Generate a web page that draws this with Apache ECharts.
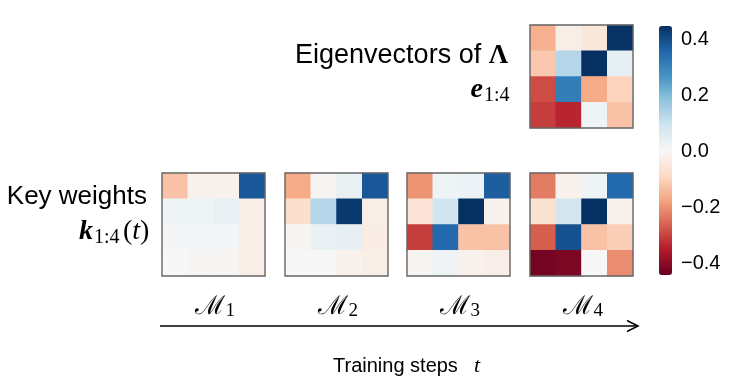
<!DOCTYPE html>
<html><head><meta charset="utf-8">
<script src="https://cdn.jsdelivr.net/npm/echarts@6/dist/echarts.min.js"></script>
<style>html,body{margin:0;padding:0;background:#fff}#c{width:731px;height:390px}</style>
</head><body><div id="c"></div>
<script>
// ---- data ----
const rowLabels = ['1', '2', '3', '4'];
const colLabels = ['1', '2', '3', '4'];
const eigenvectors = [
  [-0.16, -0.03, -0.05, 0.44],
  [-0.12, 0.13, 0.445, 0.04],
  [-0.29, 0.31, -0.17, -0.10],
  [-0.31, -0.34, 0.02, -0.13]
];
const keyM1 = [
  [-0.13, -0.02, -0.02, 0.38],
  [0.02, 0.02, 0.035, -0.03],
  [0.01, 0.01, 0.01, -0.03],
  [0.0, -0.005, -0.01, -0.03]
];
const keyM2 = [
  [-0.17, -0.01, 0.035, 0.38],
  [-0.08, 0.13, 0.43, -0.03],
  [-0.01, 0.03, 0.04, -0.035],
  [0.0, 0.0, -0.02, -0.03]
];
const keyM3 = [
  [-0.20, 0.02, 0.025, 0.37],
  [-0.06, 0.09, 0.445, -0.02],
  [-0.31, 0.35, -0.13, -0.13],
  [-0.01, 0.02, -0.02, -0.03]
];
const keyM4 = [
  [-0.23, -0.02, 0.02, 0.35],
  [-0.065, 0.085, 0.445, -0.02],
  [-0.27, 0.39, -0.13, -0.11],
  [-0.43, -0.42, 0.0, -0.21]
];
const stageLabels = ['1', '2', '3', '4'];
const colorbarMin = -0.445, colorbarMax = 0.445;
const colorbarTickMin = -0.4, colorbarTickMax = 0.4, colorbarTickStep = 0.2;
const rdbu = ['#67001f', '#b2182b', '#d6604d', '#f4a582', '#fddbc7', '#f7f7f7',
  '#d1e5f0', '#92c5de', '#4393c3', '#2166ac', '#053061'];

// ---- layout ----
const matrices = [eigenvectors, keyM1, keyM2, keyM3, keyM4];
const gridBoxes = [
  { left: 530, top: 25 },
  { left: 162, top: 173 },
  { left: 285, top: 173 },
  { left: 407, top: 173 },
  { left: 530, top: 173 }
];
const CELL = 103;

const toCells = m => m.flatMap((row, r) => row.map((v, c) => [c, r, v]));

const grid = gridBoxes.map(b => ({
  left: b.left, top: b.top, width: CELL, height: CELL,
  show: true, z: 10, backgroundColor: 'transparent',
  borderColor: '#666', borderWidth: 1.4
}));
grid.push({ left: 659, top: 39.3, width: 13, height: 224 });

const xAxis = gridBoxes.map((b, i) => ({ type: 'category', data: colLabels, gridIndex: i, show: false }));
const yAxis = gridBoxes.map((b, i) => ({ type: 'category', data: rowLabels, gridIndex: i, inverse: true, show: false }));
xAxis.push({ type: 'value', gridIndex: 5, show: false, min: 0, max: 1 });
yAxis.push({
  type: 'value', gridIndex: 5, position: 'right',
  min: colorbarTickMin, max: colorbarTickMax, interval: colorbarTickStep,
  axisLine: { show: false },
  axisTick: { show: true, length: 4, lineStyle: { color: '#000', width: 1 } },
  splitLine: { show: false },
  axisLabel: {
    margin: 9, color: '#000', fontSize: 20, fontFamily: 'Liberation Sans',
    formatter: v => (v < -1e-9 ? '\u2212' : '') + Math.abs(v).toFixed(1)
  }
});

const series = matrices.map((m, i) => ({
  type: 'heatmap', xAxisIndex: i, yAxisIndex: i, data: toCells(m),
  emphasis: { disabled: true }, itemStyle: { borderWidth: 0 }
}));

const serif = 'Liberation Serif';
const sans = 'Liberation Sans';
const graphic = [
  { type: 'text', x: 508, y: 56, style: {
      text: '{a|Eigenvectors of }{b|\u039B}', align: 'right', verticalAlign: 'middle',
      rich: { a: { fontSize: 27, fontFamily: sans, fill: '#000' },
              b: { fontSize: 27, fontFamily: serif, fontWeight: 'bold', fill: '#000' } } } },
  { type: 'text', x: 483, y: 90, style: { text: 'e', align: 'right', verticalAlign: 'middle',
      fontSize: 28, fontFamily: serif, fontWeight: 'bold', fontStyle: 'italic', fill: '#000' } },
  { type: 'text', x: 484, y: 96, style: { text: '1:4', align: 'left', verticalAlign: 'middle',
      fontSize: 20, fontFamily: serif, fill: '#000' } },

  { type: 'text', x: 147, y: 197, style: { text: 'Key weights', align: 'right', verticalAlign: 'middle',
      fontSize: 26, fontFamily: sans, fill: '#000' } },
  { type: 'text', x: 93, y: 232, style: { text: 'k', align: 'right', verticalAlign: 'middle',
      fontSize: 28, fontFamily: serif, fontWeight: 'bold', fontStyle: 'italic', fill: '#000' } },
  { type: 'text', x: 94, y: 238, style: { text: '1:4', align: 'left', verticalAlign: 'middle',
      fontSize: 20, fontFamily: serif, fill: '#000' } },
  { type: 'text', x: 123, y: 232, style: {
      text: '{p|(}{i|t}{p|)}', align: 'left', verticalAlign: 'middle',
      rich: { p: { fontSize: 28, fontFamily: serif, fill: '#000' },
              i: { fontSize: 28, fontFamily: serif, fontStyle: 'italic', fill: '#000' } } } },

  { type: 'line', shape: { x1: 160, y1: 326, x2: 637, y2: 326 }, style: { stroke: '#000', lineWidth: 1.5 } },
  { type: 'polyline', shape: { points: [[627, 320.5], [638, 326], [627, 331.5]] },
    style: { stroke: '#000', lineWidth: 1.5, fill: null } },

  { type: 'text', x: 333, y: 366, style: { text: 'Training steps', align: 'left', verticalAlign: 'middle',
      fontSize: 20, fontFamily: sans, fill: '#000' } },
  { type: 'text', x: 474, y: 366, style: { text: 't', align: 'left', verticalAlign: 'middle',
      fontSize: 22, fontFamily: serif, fontStyle: 'italic', fill: '#000' } }
];
stageLabels.forEach((s, i) => {
  const b = gridBoxes[i + 1];
  const cx = b.left + CELL / 2 + 11.5;
  graphic.push({ type: 'text', x: cx, y: 307, style: { text: '\u2133', align: 'right', verticalAlign: 'middle',
      fontSize: 26, fontFamily: 'DejaVu Serif', fill: '#000' } });
  graphic.push({ type: 'text', x: cx + 0.5, y: 311, style: { text: s, align: 'left', verticalAlign: 'middle',
      fontSize: 19, fontFamily: serif, fill: '#000' } });
});

const chart = echarts.init(document.getElementById('c'), null, { renderer: 'canvas' });
chart.setOption({
  animation: false,
  backgroundColor: '#fff',
  grid, xAxis, yAxis, series, graphic,
  visualMap: {
    type: 'continuous', min: colorbarMin, max: colorbarMax,
    seriesIndex: [0, 1, 2, 3, 4], calculable: false, orient: 'vertical',
    left: 659, top: 26, itemWidth: 13, itemHeight: 249, padding: 0,
    text: null, showLabel: false, hoverLink: false,
    inRange: { color: rdbu }
  }
});
</script></body></html>
